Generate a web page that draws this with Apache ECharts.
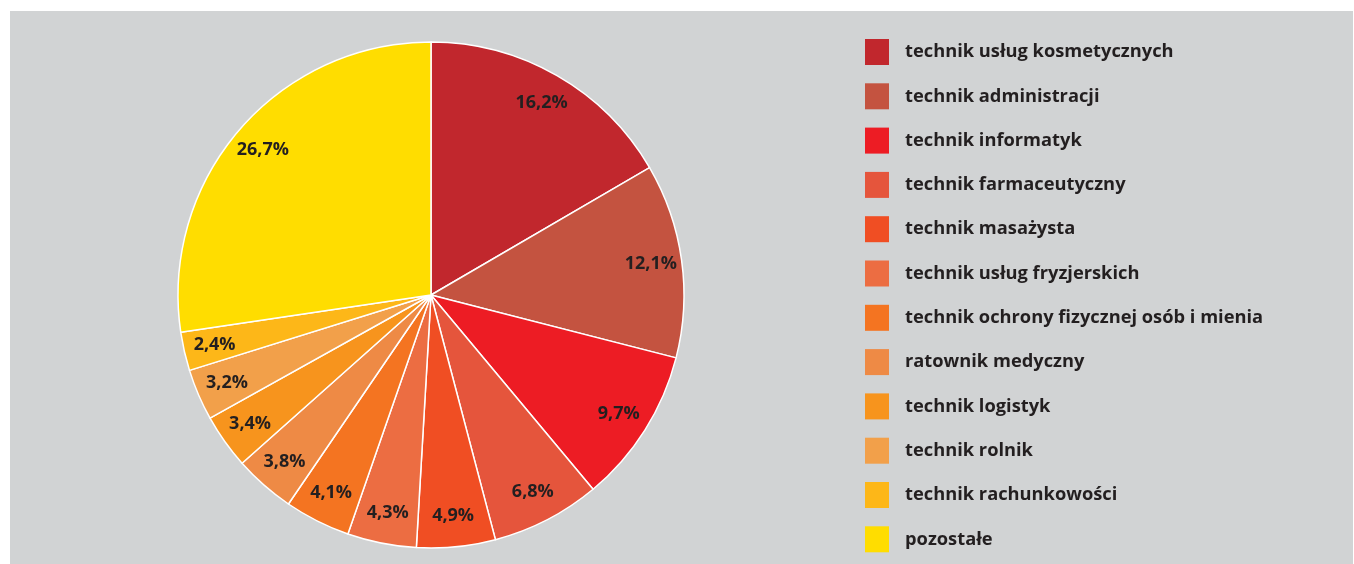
<!DOCTYPE html>
<html>
<head>
<meta charset="utf-8">
<script src="https://cdn.jsdelivr.net/npm/echarts@6/dist/echarts.min.js"></script>
<style>
  html, body { margin: 0; padding: 0; background: #ffffff; }
  #chart { position: absolute; left: 10px; top: 11px; width: 1343px; height: 553px; }
</style>
</head>
<body>
<div id="chart"></div>
<script>
// Profession shares (percent)
const categories = [
  'technik usług kosmetycznych',
  'technik administracji',
  'technik informatyk',
  'technik farmaceutyczny',
  'technik masażysta',
  'technik usług fryzjerskich',
  'technik ochrony fizycznej osób i mienia',
  'ratownik medyczny',
  'technik logistyk',
  'technik rolnik',
  'technik rachunkowości',
  'pozostałe'
];
const values = [16.2, 12.1, 9.7, 6.8, 4.9, 4.3, 4.1, 3.8, 3.4, 3.2, 2.4, 26.7];
const colors = [
  '#c1272d', '#c45340', '#ed1c24', '#e5553c', '#f04e23', '#ec6d42',
  '#f47421', '#ee8a45', '#f7941d', '#f2a04a', '#fdb718', '#ffdd00'
];

const data = categories.map((name, i) => ({ name, value: values[i] }));
const fmt = v => v.toFixed(1).replace('.', ',') + '%';

const center = [421, 284];
const R = 253;

const chart = echarts.init(document.getElementById('chart'), null, { renderer: 'canvas' });
chart.setOption({
  backgroundColor: '#d1d3d4',
  color: colors,
  animation: false,
  legend: {
    orient: 'vertical',
    left: 850,
    top: 23,
    height: 530,
    icon: 'rect',
    itemWidth: 24,
    itemHeight: 26,
    itemGap: 18.3,
    selectedMode: false,
    data: categories,
    itemStyle: { borderWidth: 0 },
    textStyle: {
      color: '#231f20',
      fontFamily: 'Open Sans',
      fontWeight: 'bold',
      fontSize: 18.3,
      lineHeight: 20,
      padding: [0, 0, 0, 11]
    }
  },
  series: [
    {
      type: 'pie',
      center: center,
      radius: R,
      startAngle: 90,
      clockwise: true,
      silent: true,
      data: data,
      itemStyle: { borderColor: '#ffffff', borderWidth: 1.5 },
      label: { show: false },
      labelLine: { show: false }
    },
    {
      // label ring: carries the value labels near the outer edge
      type: 'pie',
      center: center,
      radius: [185, R],
      startAngle: 90,
      clockwise: true,
      silent: true,
      data: data,
      itemStyle: { color: 'rgba(0,0,0,0)', borderWidth: 0 },
      label: {
        show: true,
        position: 'inside',
        formatter: p => fmt(p.value),
        color: '#231f20',
        fontFamily: 'Open Sans',
        fontWeight: 'bold',
        fontSize: 18
      },
      labelLine: { show: false }
    }
  ]
});
</script>
</body>
</html>
